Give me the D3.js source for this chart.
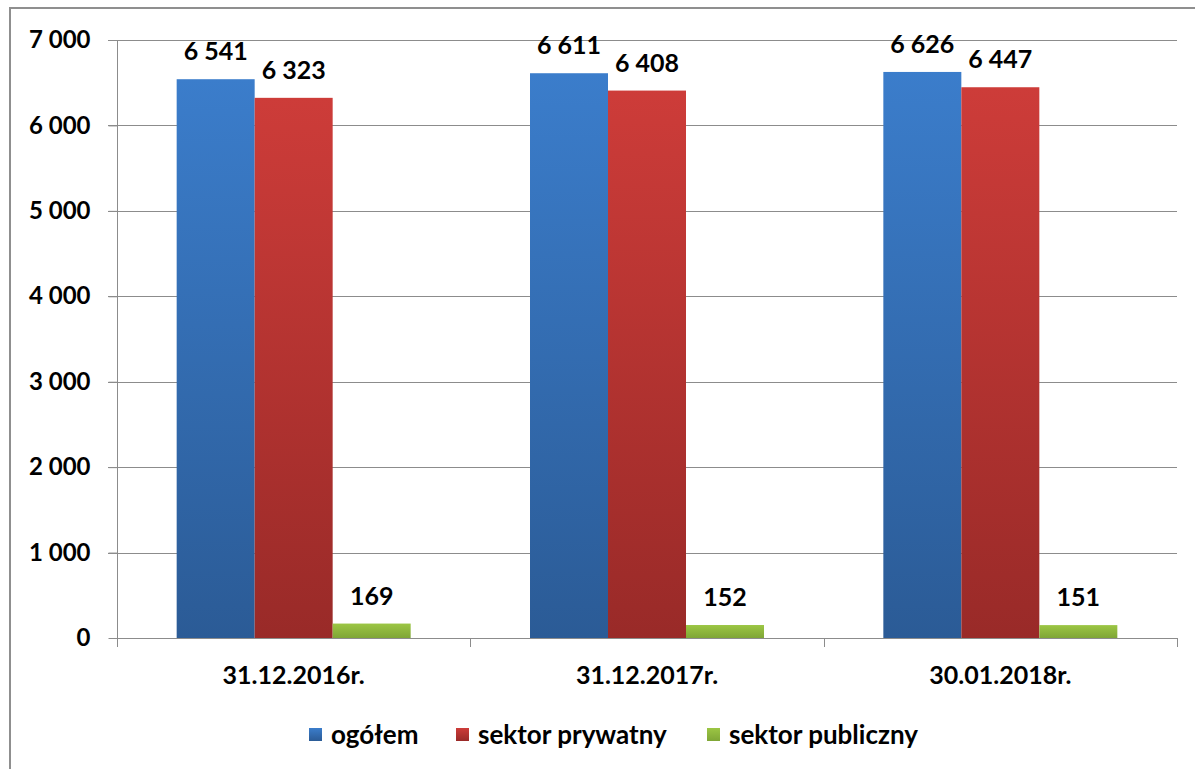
<!DOCTYPE html>
<html><head><meta charset="utf-8">
<script src="https://cdn.jsdelivr.net/npm/d3@7"></script>
<style>body{margin:0;background:#fff}svg{display:block}text{font-family:Lato,"Open Sans",sans-serif;font-weight:bold;fill:#000}</style>
</head><body><svg id="c" width="1195" height="769"></svg>
<script>
const categories = ["31.12.2016r.", "31.12.2017r.", "30.01.2018r."];
const seriesNames = ["ogółem", "sektor prywatny", "sektor publiczny"];
const ogolem = [6541, 6611, 6626];
const prywatny = [6323, 6408, 6447];
const publiczny = [169, 152, 151];
const yTicks = [0, 1000, 2000, 3000, 4000, 5000, 6000, 7000];
const colorsTop = ["#3b7dcb", "#cd3c39", "#9cc644"];
const colorsBot = ["#2b5b96", "#992a28", "#7fa636"];

const series = [ogolem, prywatny, publiczny];
const svg = d3.select("#c");
const fmt = v => d3.format(",")(v).replace(/,/g, " ");

// outer frame
svg.append("rect").attr("x", 10).attr("y", 8).attr("width", 1300).attr("height", 900)
  .attr("fill", "none").attr("stroke", "#8f8f8f").attr("stroke-width", 2);

const defs = svg.append("defs");
colorsTop.forEach((c, i) => {
  const g = defs.append("linearGradient").attr("id", "g" + i).attr("x1", 0).attr("y1", 0).attr("x2", 0).attr("y2", 1);
  g.append("stop").attr("offset", "0%").attr("stop-color", c);
  g.append("stop").attr("offset", "100%").attr("stop-color", colorsBot[i]);
});

const L = 117, R = 1177, T = 40, B = 638;
const x0 = d3.scaleBand().domain(categories).range([L, R]).paddingInner(0).paddingOuter(0);
const x1 = d3.scaleBand().domain(seriesNames).range([0, x0.bandwidth()]).paddingInner(0).paddingOuter(0.765);
const y = d3.scaleLinear().domain([0, 7000]).range([B, T]);

// gridlines
svg.append("g").selectAll("line").data(yTicks.filter(d => d > 0)).join("line")
  .attr("x1", L - 9).attr("x2", R).attr("y1", d => Math.round(y(d)) + 0.5).attr("y2", d => Math.round(y(d)) + 0.5)
  .attr("stroke", "#8c8c8c").attr("stroke-width", 1);

// y axis
const ya = svg.append("g").attr("transform", `translate(${L + 0.5},0)`)
  .call(d3.axisLeft(y).tickValues(yTicks).tickFormat(fmt).tickSize(9).tickPadding(18));
ya.select(".domain").attr("stroke", "#8c8c8c").attr("d", `M-9,${T + 0.5}H0V${B}`);
ya.selectAll(".tick line").attr("stroke", "#8c8c8c");
ya.selectAll(".tick text").style("font-size", "24px").style("font-family", "Lato").style("font-weight", "bold").attr("fill", "#000");

// bars
const grp = svg.append("g").selectAll("g").data(categories).join("g")
  .attr("transform", d => `translate(${x0(d)},0)`);
grp.selectAll("rect").data((d, ci) => series.map((s, si) => ({ si, v: s[ci] }))).join("rect")
  .attr("x", d => x1(seriesNames[d.si])).attr("width", x1.bandwidth())
  .attr("y", d => y(d.v)).attr("height", d => B - y(d.v))
  .attr("fill", d => `url(#g${d.si})`);
grp.selectAll("text").data((d, ci) => series.map((s, si) => ({ si, v: s[ci] }))).join("text")
  .attr("x", d => x1(seriesNames[d.si]) + x1.bandwidth() / 2).attr("y", d => y(d.v) - 19)
  .attr("text-anchor", "middle").style("font-size", "25px").text(d => fmt(d.v));

// x axis
const xa = svg.append("g").attr("transform", `translate(0,${B + 0.5})`)
  .call(d3.axisBottom(x0).tickSize(0).tickPadding(28));
xa.select(".domain").attr("stroke", "#8c8c8c").attr("d", `M${L},0H${R}`);
xa.selectAll(".tick text").style("font-size", "25px").style("font-family", "Lato").style("font-weight", "bold").attr("fill", "#000");
svg.append("g").selectAll("line").data([L, ...categories.map(c => x0(c) + x0.bandwidth())]).join("line")
  .attr("x1", d => Math.round(d) + 0.5).attr("x2", d => Math.round(d) + 0.5).attr("y1", B).attr("y2", B + 9)
  .attr("stroke", "#8c8c8c");

// legend
const legX = [309, 456, 707];
const leg = svg.append("g").selectAll("g").data(seriesNames).join("g")
  .attr("transform", (d, i) => `translate(${legX[i]},735)`);
leg.append("rect").attr("x", 0).attr("y", -7).attr("width", 13).attr("height", 13).attr("fill", (d, i) => `url(#g${i})`);
leg.append("text").attr("x", 22).attr("y", 9).style("font-size", "26px").text(d => d);
</script></body></html>
